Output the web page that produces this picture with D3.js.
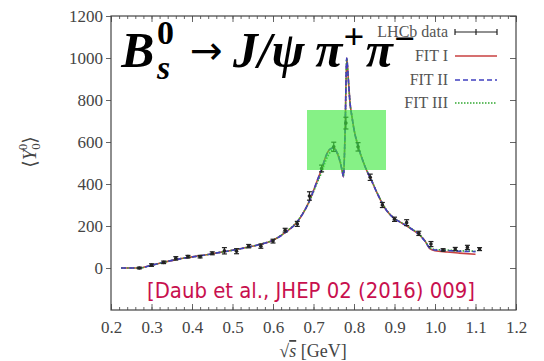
<!DOCTYPE html>
<html><head><meta charset="utf-8">
<script src="https://cdn.jsdelivr.net/npm/d3@7"></script>
<style>body{margin:0;background:#fff} svg{display:block}</style>
</head><body>
<svg id="c" width="544" height="361"></svg>
<script>
// ---- data ----
const dataX = [0.27,0.30,0.33,0.36,0.39,0.42,0.45,0.48,0.51,0.54,0.57,0.60,0.63,0.66,0.69,0.72,0.75,0.78,0.81,0.84,0.87,0.90,0.93,0.96,0.99,1.02,1.05,1.08,1.11];
const dataY = [0,14,27,46,54,54,70,82,80,104,104,128,180,210,343,474,577,690,577,432,300,232,216,165,114,86,90,98,90];
const dataErr = [4,6,6,8,6,6,7,15,12,8,10,9,9,12,20,16,22,28,20,15,12,10,14,10,12,6,8,10,7];
const fitX = [0.225,0.27,0.30,0.33,0.36,0.39,0.42,0.45,0.48,0.51,0.54,0.57,0.60,0.63,0.66,0.69,0.71,0.72,0.73,0.74,0.75,0.76,0.765,0.77,0.774,0.778,0.782,0.786,0.79,0.795,0.80,0.81,0.82,0.83,0.84,0.86,0.88,0.90,0.92,0.94,0.96,0.975,0.987,1.00,1.03,1.06,1.10];
const fit1 = [0,0,13,27,40,50,58,68,78,88,100,113,132,168,220,320,420,470,530,565,572,540,510,470,435,650,1000,900,790,720,660,580,520,470,430,345,275,235,212,188,160,130,92,82,76,71,65];
const fit2 = [0,0,13,27,40,50,58,68,78,88,100,113,132,168,220,320,420,470,530,565,572,540,510,470,435,650,1000,900,790,720,660,580,520,470,430,345,275,235,212,188,160,128,95,86,83,80,78];
const fit3 = [0,0,13,27,40,50,58,68,78,88,100,114,133,170,222,318,410,455,510,548,565,545,515,475,438,650,995,900,790,720,660,582,522,472,432,347,277,236,213,190,162,130,97,88,85,82,80];
const xTicks = [0.2,0.3,0.4,0.5,0.6,0.7,0.8,0.9,1.0,1.1,1.2];
const xMinor = d3.range(0,51).map(i => 0.2 + i*0.02);
const yTicks = [0,200,400,600,800,1000,1200];
const legendLabels = ["LHCb data","FIT I","FIT II","FIT III"];
const fitColors = ["#c84040","#4040c0","#30a830"];

const svg = d3.select("#c");
const x = d3.scaleLinear().domain([0.2,1.2]).range([111,516]);
const y = d3.scaleLinear().domain([-200,1200]).range([310,16]);
const serif = "'Liberation Serif', 'DejaVu Serif', serif";

// ---- axes ----
svg.append("g").attr("transform",`translate(0,${y(-200)})`)
  .call(d3.axisBottom(x).tickValues(xTicks).tickFormat(d3.format(".1f")).tickSizeInner(-6).tickSizeOuter(0).tickPadding(11));
svg.append("g").attr("transform",`translate(0,${y(-200)})`)
  .call(d3.axisBottom(x).tickValues(xMinor).tickFormat("").tickSizeInner(-3).tickSizeOuter(0));
svg.append("g").attr("transform",`translate(0,${y(1200)})`)
  .call(d3.axisTop(x).tickValues(xTicks).tickFormat("").tickSizeInner(-6).tickSizeOuter(0));
svg.append("g").attr("transform",`translate(0,${y(1200)})`)
  .call(d3.axisTop(x).tickValues(xMinor).tickFormat("").tickSizeInner(-3).tickSizeOuter(0));
svg.append("g").attr("transform",`translate(${x(0.2)},0)`)
  .call(d3.axisLeft(y).tickValues(yTicks).tickFormat(d3.format("d")).tickSizeInner(5).tickSizeOuter(0).tickPadding(3));
svg.append("g").attr("transform",`translate(${x(1.2)},0)`)
  .call(d3.axisRight(y).tickValues(yTicks).tickFormat("").tickSizeInner(-6).tickSizeOuter(0));
svg.selectAll(".domain").remove();
svg.selectAll(".tick line").attr("stroke","#555").attr("stroke-width",0.9);
svg.selectAll(".tick text").attr("font-family",serif).attr("font-size",17).attr("fill","#444");

svg.append("rect").attr("x",x(0.2)).attr("y",y(1200))
  .attr("width",x(1.2)-x(0.2)).attr("height",y(-200)-y(1200))
  .attr("fill","none").attr("stroke","#444").attr("stroke-width",1.2);

// ---- fit curves ----
const plotFit = (vals,color,dash,w) => {
  const line = d3.line().x((d,i)=>x(fitX[i])).y(d=>y(d)).curve(d3.curveMonotoneX);
  svg.append("path").attr("d",line(vals)).attr("fill","none")
    .attr("stroke",color).attr("stroke-width",w).attr("stroke-dasharray",dash);
};
plotFit(fit1,fitColors[0],null,1.6);
plotFit(fit3,fitColors[2],"1.5,1.5",1.6);
plotFit(fit2,fitColors[1],"5,3",1.6);

// ---- data points ----
const pts = svg.append("g").attr("stroke","#222").attr("stroke-width",1.2);
dataX.forEach((xv,i)=>{
  const cx = x(xv), y1 = y(dataY[i]-dataErr[i]), y2 = y(dataY[i]+dataErr[i]);
  pts.append("line").attr("x1",cx).attr("x2",cx).attr("y1",y1).attr("y2",y2);
  pts.append("line").attr("x1",cx-2.5).attr("x2",cx+2.5).attr("y1",y1).attr("y2",y1);
  pts.append("line").attr("x1",cx-2.5).attr("x2",cx+2.5).attr("y1",y2).attr("y2",y2);
  pts.append("circle").attr("cx",cx).attr("cy",y(dataY[i])).attr("r",1.8).attr("fill","#222").attr("stroke","none");
});

// ---- highlight box ----
svg.append("rect").attr("x",307).attr("y",110).attr("width",79).attr("height",60)
  .attr("fill","rgb(60,232,60)").attr("fill-opacity",0.62);

// ---- legend ----
const legY = [32,56,80,103];
legendLabels.forEach((t,i)=>{
  svg.append("text").attr("x",448).attr("y",legY[i]+5).attr("text-anchor","end")
    .attr("font-family",serif).attr("font-size",16).attr("fill","#555").text(t);
});
const lg = svg.append("g");
lg.append("line").attr("x1",455).attr("x2",497).attr("y1",legY[0]).attr("y2",legY[0]).attr("stroke","#222").attr("stroke-width",1.2);
[455,476,497].forEach(xx=>lg.append("line").attr("x1",xx).attr("x2",xx).attr("y1",legY[0]-3).attr("y2",legY[0]+3).attr("stroke","#222").attr("stroke-width",1.2));
lg.append("line").attr("x1",455).attr("x2",497).attr("y1",legY[1]).attr("y2",legY[1]).attr("stroke",fitColors[0]).attr("stroke-width",1.6);
lg.append("line").attr("x1",455).attr("x2",497).attr("y1",legY[2]).attr("y2",legY[2]).attr("stroke",fitColors[1]).attr("stroke-width",1.6).attr("stroke-dasharray","5,3");
lg.append("line").attr("x1",455).attr("x2",497).attr("y1",legY[3]).attr("y2",legY[3]).attr("stroke",fitColors[2]).attr("stroke-width",1.6).attr("stroke-dasharray","1.5,1.5");

// ---- title ----
const tg = svg.append("g");
let cur = 0;
const piece = (txt,opt) => {
  const t = tg.append("text").attr("x",cur+(opt.dx||0)).attr("y",opt.y||0)
    .attr("font-family",opt.font||serif).attr("font-size",opt.size||38)
    .attr("font-weight",opt.bold===false?"normal":"bold").attr("font-style",opt.italic?"italic":"normal")
    .attr("fill","#000").text(txt);
  const w = t.node().getComputedTextLength();
  if(!opt.noAdvance) cur += (opt.dx||0) + w;
  return w;
};
piece("B",{italic:true});
const ws = piece("s",{italic:true,size:26,y:9,dx:2,noAdvance:true});
const w0 = piece("0",{size:26,y:-18,dx:2,noAdvance:true});
cur += 2 + Math.max(ws,w0);
piece("→",{font:"'DejaVu Sans',sans-serif",size:30,bold:false,dx:12,y:-2});
piece("J/ψ",{italic:true,dx:8});
piece("π",{italic:true,dx:8});
piece("+",{size:28,y:-14,dx:1});
piece("π",{italic:true,dx:1});
piece("−",{size:28,y:-12,dx:1});
const bb = tg.node().getBBox();
const sc = (415-120)/bb.width;
tg.attr("transform",`translate(${120 - bb.x*sc},67) scale(${sc})`);

// ---- citation ----
svg.append("text").attr("x",147).attr("y",298).attr("font-family","'DejaVu Sans',sans-serif")
  .attr("font-size",21).attr("fill","#c8104e").attr("textLength",328).attr("lengthAdjust","spacingAndGlyphs")
  .text("[Daub et al., JHEP 02 (2016) 009]");

// ---- axis labels ----
const yl = svg.append("text").attr("transform","translate(36,152) rotate(-90)").attr("text-anchor","middle")
  .attr("font-family",serif).attr("font-size",19).attr("fill","#444");
yl.append("tspan").text("⟨");
yl.append("tspan").attr("font-style","italic").text("Y");
yl.append("tspan").attr("font-size",13).attr("dy",4).text("0");
yl.append("tspan").attr("font-size",13).attr("dx",-7).attr("dy",-13).text("0");
yl.append("tspan").attr("dy",9).text("⟩");
const xl = svg.append("text").attr("x",313).attr("y",357).attr("text-anchor","middle")
  .attr("font-family",serif).attr("font-size",18).attr("fill","#444");
xl.append("tspan").text("√");
xl.append("tspan").attr("font-style","italic").attr("text-decoration","overline").text("s");
xl.append("tspan").text(" [GeV]");
</script>
</body></html>
